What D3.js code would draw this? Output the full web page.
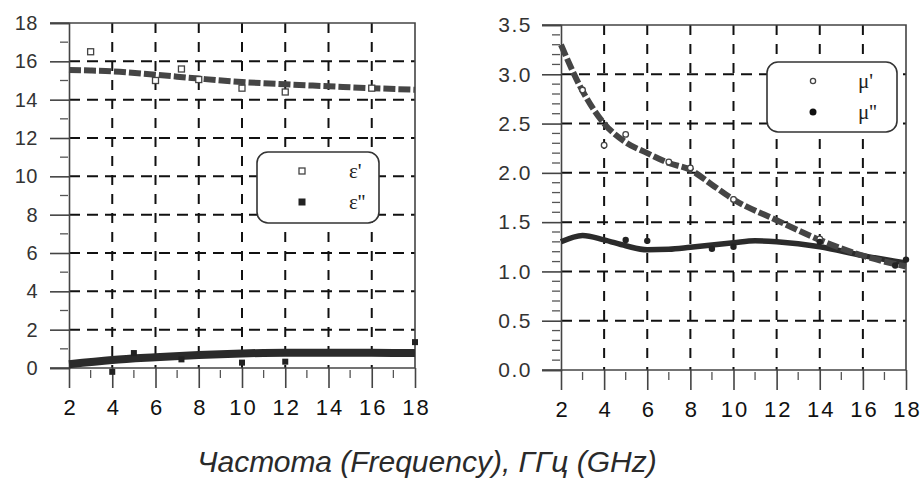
<!DOCTYPE html>
<html>
<head>
<meta charset="utf-8">
<script src="https://cdn.jsdelivr.net/npm/d3@7"></script>
<style>
  body { margin: 0; background: #fff; }
  svg { display: block; }
</style>
</head>
<body>
<div id="chart"></div>
<script>
// frequency ticks (GHz)
var freqTicks = [2, 4, 6, 8, 10, 12, 14, 16, 18];

// left panel: permittivity
var epsTicks = [0, 2, 4, 6, 8, 10, 12, 14, 16, 18];
var epsRealCurve = [[2, 15.55], [3, 15.52], [4, 15.48], [6, 15.3], [8, 15.1], [10, 14.92], [12, 14.8], [14, 14.7], [16, 14.6], [18, 14.52]];
var epsImagCurve = [[2, 0.2], [4, 0.42], [6, 0.56], [8, 0.68], [10, 0.76], [12, 0.8], [14, 0.8], [16, 0.79], [18, 0.78]];
var epsRealPts = [[3, 16.5], [6, 15.0], [7.2, 15.6], [8, 15.05], [10, 14.6], [12, 14.4], [16, 14.6]];
var epsImagPts = [[4, -0.2], [5, 0.78], [7.2, 0.45], [10, 0.28], [12, 0.33], [18, 1.35]];

// right panel: permeability
var muTicks = [0, 0.5, 1, 1.5, 2, 2.5, 3, 3.5];
var muRealCurve = [[2, 3.3], [3, 2.83], [4, 2.5], [5, 2.31], [6, 2.2], [7, 2.1], [8, 2.03], [9, 1.88], [10, 1.73], [12, 1.52], [14, 1.32], [16, 1.16], [18, 1.05]];
var muImagCurve = [[2, 1.3], [3, 1.365], [4, 1.32], [5, 1.26], [6, 1.22], [7, 1.225], [8, 1.245], [10, 1.29], [11, 1.31], [12, 1.3], [14, 1.25], [16, 1.16], [18, 1.085]];
var muRealPts = [[3, 2.84], [4, 2.28], [5, 2.39], [7, 2.11], [8, 2.05], [10, 1.73], [14, 1.33]];
var muImagPts = [[5, 1.32], [6, 1.31], [9, 1.23], [10, 1.25], [14, 1.3], [17.5, 1.06], [18, 1.12]];

var svg = d3.select("#chart").append("svg").attr("width", 923).attr("height", 492);

function drawPanel(p) {
    var x = d3.scaleLinear().domain([2, 18]).range([p.left, p.right]);
    var y = d3.scaleLinear().domain([p.yTicks[0], p.yTicks[p.yTicks.length - 1]]).range([p.bottom, p.top]);
    var g = svg.append("g");

    // grid
    g.selectAll(".hgrid").data(p.yTicks.slice(1, -1)).enter().append("line")
        .attr("x1", p.left).attr("x2", p.right)
        .attr("y1", d => y(d)).attr("y2", d => y(d))
        .attr("stroke", "#111").attr("stroke-width", 2).attr("stroke-dasharray", "11,7");
    g.selectAll(".vgrid").data(freqTicks.slice(1, -1)).enter().append("line")
        .attr("x1", d => x(d)).attr("x2", d => x(d))
        .attr("y1", p.top).attr("y2", p.bottom)
        .attr("stroke", "#111").attr("stroke-width", 2).attr("stroke-dasharray", "10,9");

    // frame
    g.append("path")
        .attr("d", `M${p.left - 19},${p.top}H${p.right}V${p.bottom}`)
        .attr("fill", "none").attr("stroke", "#444").attr("stroke-width", 1.6);

    // axes
    var yAxis = d3.axisLeft(y).tickValues(p.yTicks).tickSize(19).tickFormat(p.fmt);
    var ya = g.append("g").attr("transform", `translate(${p.left},0)`).call(yAxis);
    ya.select(".domain").attr("stroke", "#444").attr("stroke-width", 1.6);
    ya.selectAll(".tick line").attr("stroke", "#444").attr("stroke-width", 1.6);
    ya.selectAll("text").attr("x", p.labelX - p.left).attr("font-family", "Liberation Sans, Arial")
        .attr("font-size", p.yFont).attr("letter-spacing", p.ySpace).attr("fill", "#333");

    var yMinor = d3.range(p.yTicks[0], p.yTicks[p.yTicks.length - 1], p.minorStep)
        .filter(v => p.yTicks.every(t => Math.abs(t - v) > 1e-6));
    g.selectAll(".ymin").data(yMinor).enter().append("line")
        .attr("x1", p.left - 9).attr("x2", p.left - 1)
        .attr("y1", d => y(d)).attr("y2", d => y(d))
        .attr("stroke", "#555").attr("stroke-width", 1.3);

    var xAxis = d3.axisBottom(x).tickValues(freqTicks).tickSize(20).tickPadding(11);
    var xa = g.append("g").attr("transform", `translate(0,${p.bottom})`).call(xAxis);
    xa.select(".domain").attr("d", `M${p.left - 19},0H${p.right}`).attr("stroke", "#444").attr("stroke-width", 1.6);
    xa.selectAll(".tick line").attr("stroke", "#444").attr("stroke-width", 1.6);
    xa.selectAll("text").attr("font-family", "Liberation Sans, Arial").attr("font-size", 22)
        .attr("letter-spacing", 2).attr("dx", 1).attr("fill", "#111");

    var xMinor = [3, 5, 7, 9, 11, 13, 15, 17];
    g.selectAll(".xmin").data(xMinor).enter().append("line")
        .attr("x1", d => x(d)).attr("x2", d => x(d))
        .attr("y1", p.bottom + 2).attr("y2", p.bottom + 10)
        .attr("stroke", "#555").attr("stroke-width", 1.3);

    // curves
    var line = d3.line().x(d => x(d[0])).y(d => y(d[1])).curve(d3.curveMonotoneX);
    g.append("path").datum(p.imagCurve).attr("d", line)
        .attr("fill", "none").attr("stroke", "#2b2b2b").attr("stroke-width", p.solidW);
    g.append("path").datum(p.realCurve).attr("d", line)
        .attr("fill", "none").attr("stroke", "#454545").attr("stroke-width", 6)
        .attr("stroke-dasharray", "12,3");

    // points
    if (p.square) {
        g.selectAll(".pr").data(p.realPts).enter().append("rect")
            .attr("x", d => x(d[0]) - 3).attr("y", d => y(d[1]) - 3).attr("width", 6).attr("height", 6)
            .attr("fill", "#fff").attr("stroke", "#444").attr("stroke-width", 1.3);
        g.selectAll(".pi").data(p.imagPts).enter().append("rect")
            .attr("x", d => x(d[0]) - 3).attr("y", d => y(d[1]) - 3).attr("width", 6).attr("height", 6)
            .attr("fill", "#222");
    } else {
        g.selectAll(".pr").data(p.realPts).enter().append("circle")
            .attr("cx", d => x(d[0])).attr("cy", d => y(d[1])).attr("r", 2.8)
            .attr("fill", "#fff").attr("stroke", "#444").attr("stroke-width", 1.3);
        g.selectAll(".pi").data(p.imagPts).enter().append("circle")
            .attr("cx", d => x(d[0])).attr("cy", d => y(d[1])).attr("r", 3.2)
            .attr("fill", "#222");
    }

    // legend
    var L = p.legend;
    var lg = g.append("g");
    lg.append("rect").attr("x", L.x).attr("y", L.y).attr("width", L.w).attr("height", L.h)
        .attr("rx", 11).attr("fill", "#fff").attr("stroke", "#333").attr("stroke-width", 1.6);
    if (p.square) {
        lg.append("rect").attr("x", L.mx - 3).attr("y", L.y1 - 3).attr("width", 6).attr("height", 6)
            .attr("fill", "#fff").attr("stroke", "#444").attr("stroke-width", 1.3);
        lg.append("rect").attr("x", L.mx - 3.5).attr("y", L.y2 - 3.5).attr("width", 7).attr("height", 7).attr("fill", "#222");
    } else {
        lg.append("circle").attr("cx", L.mx).attr("cy", L.y1).attr("r", 2.6)
            .attr("fill", "#fff").attr("stroke", "#444").attr("stroke-width", 1.3);
        lg.append("circle").attr("cx", L.mx).attr("cy", L.y2).attr("r", 3.5).attr("fill", "#111");
    }
    lg.selectAll("text").data(p.names).enter().append("text")
        .attr("x", L.tx).attr("y", (d, i) => (i === 0 ? L.y1 : L.y2) + 7)
        .attr("font-family", "Liberation Serif, Times New Roman").attr("font-size", 21).attr("fill", "#222")
        .text(d => d);
}

drawPanel({
    left: 69, right: 415, top: 23, bottom: 368, labelX: 38, yFont: 20, ySpace: 0.5,
    yTicks: epsTicks, minorStep: 1, fmt: d3.format("d"),
    realCurve: epsRealCurve, imagCurve: epsImagCurve, realPts: epsRealPts, imagPts: epsImagPts,
    solidW: 8, square: true, names: ["\u03b5'", "\u03b5''"],
    legend: { x: 257, y: 152, w: 122, h: 71, mx: 302, tx: 349, y1: 171, y2: 202 }
});

drawPanel({
    left: 561, right: 906, top: 25, bottom: 370, labelX: 532, yFont: 21, ySpace: 1.5,
    yTicks: muTicks, minorStep: 0.1, fmt: d3.format(".1f"),
    realCurve: muRealCurve, imagCurve: muImagCurve, realPts: muRealPts, imagPts: muImagPts,
    solidW: 5.5, square: false, names: ["\u03bc'", "\u03bc''"],
    legend: { x: 767, y: 62, w: 130, h: 70, mx: 813, tx: 858, y1: 81, y2: 112 }
});

svg.append("text").attr("x", 427).attr("y", 472).attr("text-anchor", "middle")
    .attr("font-family", "Liberation Sans, Arial").attr("font-style", "italic")
    .attr("font-size", 30).attr("fill", "#2a2a2a")
    .text("Частота (Frequency), ГГц (GHz)");
</script>
</body>
</html>
